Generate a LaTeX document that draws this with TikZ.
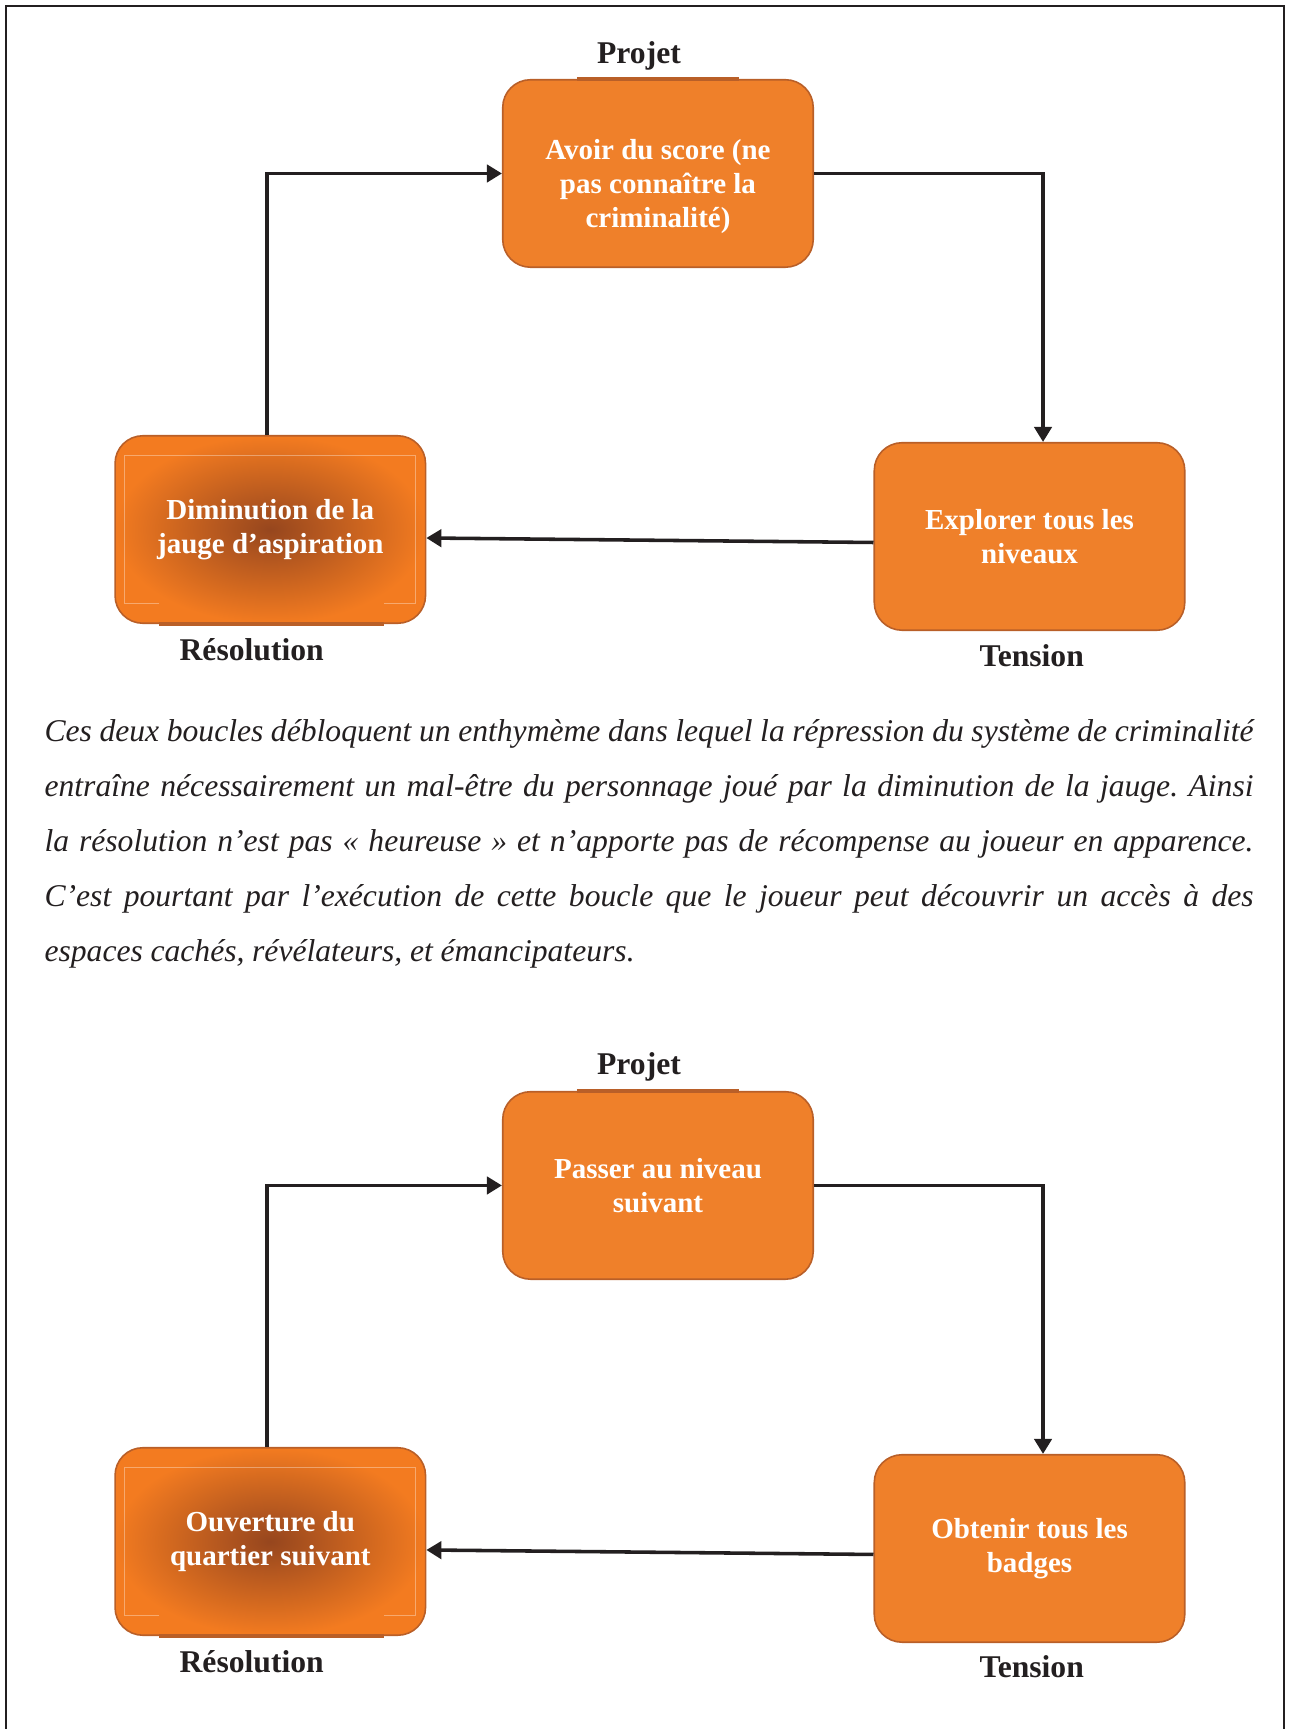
\documentclass[tikz,border=0pt]{standalone}
\usepackage{fontspec}
\setmainfont{Liberation Serif}
\usetikzlibrary{arrows.meta, calc}

\definecolor{boxorange}{HTML}{EF802A}
\definecolor{boxedge}{HTML}{B95F28}
\definecolor{shadein}{HTML}{96461E}
\definecolor{shadeout}{HTML}{F37B20}
\definecolor{inkline}{HTML}{231F20}

\begin{document}
\begin{tikzpicture}[
  x=1cm, y=1cm,
  stage/.style = {draw=boxedge, line width=0.6pt, rounded corners=0.37cm,
                  minimum width=4.14cm, minimum height=2.5cm, inner sep=0pt,
                  text=white, align=center,
                  font=\fontsize{11}{12.9}\selectfont\bfseries},
  plain/.style = {stage, fill=boxorange},
  glow/.style  = {stage, inner color=shadein, outer color=shadeout},
  words/.style = {inner sep=0pt, text=white, align=center,
                  font=\fontsize{11}{12.9}\selectfont\bfseries},
  tag/.style   = {anchor=base, inner sep=0pt, text=inkline,
                  font=\fontsize{12}{14}\selectfont\bfseries},
  arr/.style   = {-{Triangle[length=2mm, width=2.3mm]}, line width=1.35pt, inkline},
  seam/.style  = {white, opacity=0.35, line width=0.4pt},
  rim/.style   = {boxedge, line width=1.4pt},
]

\useasboundingbox (0,0) rectangle (17.2133,-23.0533);

%% ── Page frame (open at the bottom) ─────────────────────────────────────────
\draw[inkline, line width=0.8pt]
  (0.08,-23.3) -- (0.08,-0.08) -- (17.12,-0.08) -- (17.12,-23.3);

%% ── Loop 1: score ───────────────────────────────────────────────────────────
\node[plain] (projA) at (8.773,-2.313) {};
\node[words] (projAtxt) at ($(projA)+(0,-0.17)$)
  {Avoir du score (ne\\pas connaître la\\criminalité)};
\node[glow]  (resA)  at (3.604,-7.060) {Diminution de la\\jauge d’aspiration};
\node[plain] (tensA) at (13.727,-7.153) {Explorer tous les\\niveaux};

\node[tag] (projAtag) at (8.520,-0.840) {Projet};
\node[tag] (resAtag)  at (3.356,-8.809) {Résolution};
\node[tag] (tensAtag) at (13.756,-8.880) {Tension};

\draw[rim] ($(projA.north west)+(1.0,0)$) -- ($(projA.north east)+(-1.0,0)$);
\draw[rim] ($(resA.south west)+(0.6,0)$) -- ($(resA.south east)+(-0.56,0)$);
\draw[seam] ($(resA.south west)+(0.6,0.28)$) -- ($(resA.south west)+(0.133,0.28)$)
  -- ($(resA.north west)+(0.133,-0.28)$) -- ($(resA.north east)+(-0.147,-0.28)$)
  -- ($(resA.south east)+(-0.147,0.28)$) -- ($(resA.south east)+(-0.56,0.28)$);

\coordinate (tensAin) at ($(tensA.north)+(0.18,0)$);
\draw[arr] ($(resA.north)+(-0.045,0)$) |- (projA.west);
\draw[arr] (projA.east) -| (tensAin);
\draw[arr] ($(tensA.west)+(0,-0.08)$) -- ($(resA.east)+(0,-0.113)$);

%% ── Commentary ──────────────────────────────────────────────────────────────
\node[anchor=base west, inner sep=0pt, text width=16.12cm, align=justify,
      text=inkline, font=\fontsize{12}{20.9}\selectfont\itshape]
  (gloss) at (0.587,-9.880)
  {\frenchspacing\hyphenpenalty=10000\relax\exhyphenpenalty=10000\relax
   \spaceskip=2.9pt plus 6pt minus 1.6pt\relax
   Ces deux boucles débloquent un enthymème dans lequel la répression du système de criminalité\linebreak
   entraîne nécessairement un mal-être du personnage joué par la diminution de la jauge. Ainsi\linebreak
   la résolution n’est pas « heureuse » et n’apporte pas de récompense au joueur en apparence.\linebreak
   C’est pourtant par l’exécution de cette boucle que le joueur peut découvrir un accès à des\linebreak
   espaces cachés, révélateurs, et émancipateurs.};

%% ── Loop 2: niveaux ─────────────────────────────────────────────────────────
\begin{scope}[yshift=-13.493cm]
\node[plain] (projB) at (8.773,-2.313) {Passer au niveau\\suivant};
\node[glow]  (resB)  at (3.604,-7.060) {Ouverture du\\quartier suivant};
\node[plain] (tensB) at (13.727,-7.153) {Obtenir tous les\\badges};

\node[tag] (projBtag) at (8.520,-0.840) {Projet};
\node[tag] (resBtag)  at (3.356,-8.809) {Résolution};
\node[tag] (tensBtag) at (13.756,-8.880) {Tension};

\draw[rim] ($(projB.north west)+(1.0,0)$) -- ($(projB.north east)+(-1.0,0)$);
\draw[rim] ($(resB.south west)+(0.6,0)$) -- ($(resB.south east)+(-0.56,0)$);
\draw[seam] ($(resB.south west)+(0.6,0.28)$) -- ($(resB.south west)+(0.133,0.28)$)
  -- ($(resB.north west)+(0.133,-0.28)$) -- ($(resB.north east)+(-0.147,-0.28)$)
  -- ($(resB.south east)+(-0.147,0.28)$) -- ($(resB.south east)+(-0.56,0.28)$);

\coordinate (tensBin) at ($(tensB.north)+(0.18,0)$);
\draw[arr] ($(resB.north)+(-0.045,0)$) |- (projB.west);
\draw[arr] (projB.east) -| (tensBin);
\draw[arr] ($(tensB.west)+(0,-0.08)$) -- ($(resB.east)+(0,-0.113)$);
\end{scope}

\end{tikzpicture}
\end{document}
